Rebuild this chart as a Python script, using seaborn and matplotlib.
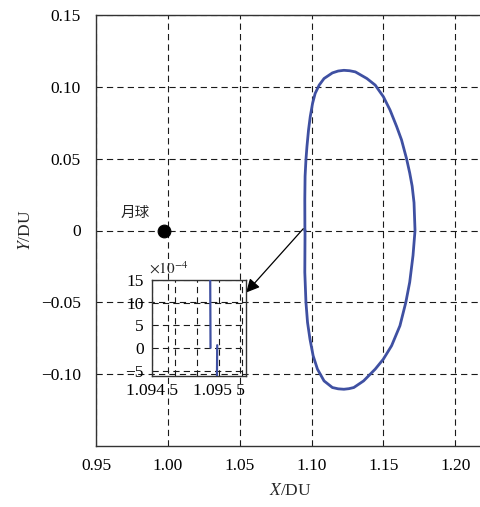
import numpy as np
import pandas as pd
import matplotlib
matplotlib.use("Agg")
import matplotlib.pyplot as plt
import seaborn as sns

# ---------------- data ----------------
orbit_x = [1.09547, 1.0953, 1.0961, 1.0972, 1.0989, 1.1011, 1.1041, 1.1087, 1.1145,
           1.1185, 1.1225, 1.1260, 1.1294, 1.1362, 1.1443, 1.1500, 1.1557, 1.1615,
           1.1656, 1.1683, 1.1706, 1.1720, 1.1713, 1.1700, 1.1683, 1.1661, 1.1626,
           1.1592, 1.1546, 1.1500, 1.1443, 1.1385, 1.1305, 1.1265, 1.1225, 1.1185,
           1.1145, 1.1087, 1.1053, 1.1025, 1.1007, 1.0991, 1.0979, 1.0968, 1.0961,
           1.0955, 1.0953, 1.09537]
orbit_y = [0.00006, -0.0291, -0.0500, -0.0640, -0.0756, -0.0872, -0.0965, -0.1047, -0.1093,
           -0.1102, -0.1105, -0.1101, -0.1093, -0.1047, -0.0965, -0.0895, -0.0802, -0.0663,
           -0.0500, -0.0360, -0.0174, 0.0, 0.0194, 0.0309, 0.0401, 0.0500, 0.0631,
           0.0724, 0.0839, 0.0931, 0.1012, 0.1058, 0.1104, 0.1112, 0.1115, 0.1110,
           0.1097, 0.1058, 0.1012, 0.0954, 0.0885, 0.0793, 0.0700, 0.0585, 0.0493,
           0.0378, 0.0217, 0.0]

moon_x = [0.9976]
moon_y = [0.0]
moon_label = "月球"

x_ticks = [0.95, 1.00, 1.05, 1.10, 1.15, 1.20]
x_tick_labels = ["0.95", "1.00", "1.05", "1.10", "1.15", "1.20"]
y_ticks = [-0.10, -0.05, 0.0, 0.05, 0.10, 0.15]
y_tick_labels = ["\u22120.10", "\u22120.05", "0", "0.05", "0.10", "0.15"]

inset_x_ticks = [1.0945, 1.0945 + 1/3000, 1.0945 + 2/3000, 1.0955, 1.0955 + 1/3000]
inset_x_tick_labels = ["1.094 5", "", "", "1.095 5", ""]
inset_y_ticks = [-5, 0, 5, 10, 15]
inset_y_tick_labels = ["\u22125", "0", "5", "10", "15"]
inset_scale = 1e4

# ---------------- style ----------------
sns.set_theme(style="white")
plt.rcParams["font.family"] = ["Liberation Serif", "Noto Sans CJK SC", "DejaVu Sans"]
plt.rcParams["mathtext.fontset"] = "stix"
plt.rcParams["lines.scale_dashes"] = False

line_color = "#3f50a2"
grid_kw = dict(color="#1a1a1a", lw=0.8, linestyle=(0, (4.5, 3.0)))
FS = 12.5

df = pd.DataFrame({"x": orbit_x, "y": orbit_y})
df["y_in"] = df["y"] * inset_scale
moon = pd.DataFrame({"x": moon_x, "y": moon_y})

W, H = 481, 507
fig = plt.figure(figsize=(W / 100, H / 100), dpi=100)
fig.patch.set_facecolor("white")

# main axes
ax = fig.add_axes([96 / W, (H - 446) / H, 388 / W, 431 / H])
ax.set_facecolor("white")
sns.lineplot(data=df, x="x", y="y", sort=False, estimator=None, color=line_color,
             lw=2.0, ax=ax, zorder=3)
sns.scatterplot(data=moon, x="x", y="y", color="black", s=85, edgecolor="black",
                ax=ax, zorder=4, legend=False)
ax.text(moon_x[0] - 0.020, moon_y[0] + 0.0125, moon_label, fontsize=10.5,
        family=["Noto Sans CJK SC"], ha="center", va="center")

ax.set_xlim(0.95, 1.22)
ax.set_ylim(-0.15, 0.15)
ax.set_xticks(x_ticks)
ax.set_xticklabels(x_tick_labels)
ax.set_yticks(y_ticks)
ax.set_yticklabels(y_tick_labels)
ax.grid(True, **grid_kw)
ax.set_axisbelow(True)
ax.tick_params(direction="in", length=4, width=0.8, colors="#222222",
               labelsize=FS, labelcolor="black")
ax.tick_params(axis="y", pad=11)
ax.tick_params(axis="x", pad=9)
for s in ax.spines.values():
    s.set_color("#333333")
    s.set_linewidth(1.0)
ax.set_xlabel(r"$\mathit{X}$/DU", fontsize=FS, labelpad=6)
ax.set_ylabel(r"$\mathit{Y}$/DU", fontsize=FS, labelpad=5)

# arrow from orbit to inset
ax.annotate("", xy=(1.05446, -0.0432), xytext=(1.0942, 0.0012),
            arrowprops=dict(arrowstyle="-|>", color="black", lw=0.9,
                            mutation_scale=20, shrinkA=0, shrinkB=0), zorder=5)

# inset axes
axi = fig.add_axes([152.3 / W, (H - 376) / H, 93.7 / W, 96 / H])
axi.set_facecolor("none")
sns.lineplot(data=df, x="x", y="y_in", sort=False, estimator=None, color=line_color,
             lw=1.6, ax=axi, zorder=3)
axi.set_xlim(1.0945, 1.0959)
axi.set_ylim(-6.2, 15)
axi.set_xticks(inset_x_ticks)
axi.set_xticklabels(inset_x_tick_labels)
axi.set_yticks(inset_y_ticks)
axi.set_yticklabels(inset_y_tick_labels)
axi.grid(True, **grid_kw)
axi.tick_params(direction="in", length=3, width=0.8, colors="#222222",
                labelsize=FS, labelcolor="black")
axi.tick_params(axis="y", pad=6)
axi.tick_params(axis="x", pad=5)
for s in axi.spines.values():
    s.set_color("#333333")
    s.set_linewidth(1.0)
axi.set_xlabel("")
axi.set_ylabel("")
axi.text(-0.03, 1.03, r"$\times10^{-4}$", transform=axi.transAxes, fontsize=11,
         ha="left", va="bottom")

fig.savefig("out.png", dpi=100, facecolor="white")
